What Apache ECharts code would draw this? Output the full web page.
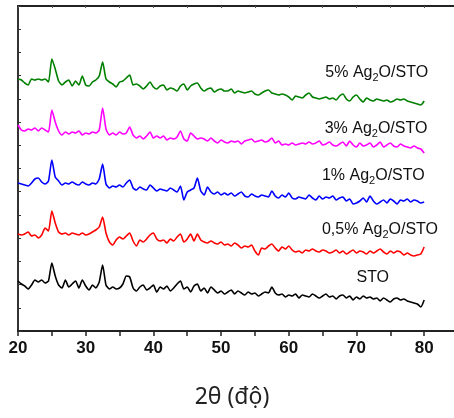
<!DOCTYPE html>
<html>
<head>
<meta charset="utf-8">
<script src="https://cdn.jsdelivr.net/npm/echarts@6/dist/echarts.min.js"></script>
<style>
  html, body { margin: 0; padding: 0; background: #fff; }
  #main { width: 454px; height: 418px; }
</style>
</head>
<body>
<div id="main"></div>
<script>
// 2θ sampled every 0.5 degree, 20 -> 80
var angles = [];
for (var i = 0; i <= 120; i++) {
    angles.push(20 + i * 0.5);
}

// intensities (a.u., patterns already stacked with an offset)
var sto = [50,47,45,42,46,51,49,51,48,50,68,55,46,43,51,44,47,50,43,51,45,41,46,43,49,66,46,42,44,42,43,47,55,54,43,40,44,46,41,43,46,39,44,42,45,40,43,47,50,42,44,39,45,47,40,43,38,44,41,38,40,37,39,41,37,40,38,36,39,37,38,35,37,39,38,44,38,36,37,34,36,35,37,33,36,35,34,37,35,33,35,37,34,35,32,35,36,33,35,31,34,32,35,33,34,32,33,30,33,31,29,32,33,31,32,30,29,28,27,24,31];
var ag05 = [97,96,97,99,95,96,93,96,103,100,120,108,99,97,98,96,98,97,96,98,96,97,99,101,104,114,98,89,86,91,94,92,95,98,90,85,91,89,92,96,98,92,90,91,88,92,90,94,97,89,92,97,90,97,91,89,88,90,88,87,89,86,87,85,88,86,83,85,84,86,80,76,83,82,85,87,83,80,84,82,85,81,79,80,78,81,80,82,80,79,81,80,78,79,81,78,80,77,79,81,78,80,79,77,80,78,80,82,79,77,80,78,80,79,76,78,76,75,76,77,84];
var ag1 = [148,147,146,145,148,152,153,149,147,150,171,154,150,146,148,147,149,147,146,149,147,146,148,147,152,167,147,143,145,144,146,144,148,151,143,141,144,142,141,146,143,140,142,141,140,143,141,139,145,131,139,141,143,153,140,136,144,139,137,139,136,138,136,138,135,137,139,135,134,137,135,134,136,135,134,140,135,133,136,134,138,133,132,134,133,132,136,133,131,135,132,134,133,135,131,133,134,130,132,127,128,130,133,129,135,130,127,129,131,128,132,130,127,131,130,132,129,131,130,128,129];
var ag3 = [206,201,200,202,201,203,200,203,201,199,221,209,200,196,199,197,199,198,200,196,198,197,199,198,201,223,202,196,198,196,199,197,198,204,196,193,195,192,195,199,193,195,193,195,191,193,192,194,200,192,190,198,195,192,193,192,190,193,190,188,191,189,188,190,189,190,187,190,191,192,189,190,191,189,190,193,188,190,186,187,186,188,186,187,188,187,189,187,188,190,186,187,189,186,185,187,189,185,190,186,184,188,185,186,188,184,186,189,184,186,188,185,184,187,185,184,183,185,183,182,178];
var ag5 = [252,251,248,246,252,251,252,251,252,249,272,262,250,246,249,251,245,250,246,255,246,245,249,251,255,269,252,249,247,244,249,250,253,256,246,247,245,242,245,249,244,242,245,246,241,243,242,240,245,247,241,245,247,248,243,240,242,243,239,241,242,240,240,242,238,240,239,238,239,240,237,236,238,240,241,238,237,236,237,236,234,231,235,234,233,236,238,234,233,232,233,234,232,233,231,235,237,232,230,234,236,232,229,233,231,230,232,231,230,231,229,230,232,231,232,230,229,228,227,226,230];

var seriesNames = ['STO', '0,5% Ag2O/STO', '1% Ag2O/STO', '3% Ag2O/STO', '5% Ag2O/STO'];
var seriesData = [sto, ag05, ag1, ag3, ag5];
var colors = ['#000000', '#ff0000', '#0000ff', '#ff00ff', '#008000'];

// label anchors in data coordinates [2θ, intensity]
var labelText = [
    '{n|STO}',
    '{n|0,5% Ag}{s|2}{n|O/STO}',
    '{n|1% Ag}{s|2}{n|O/STO}',
    '{n|3% Ag}{s|2}{n|O/STO}',
    '{n|5% Ag}{s|2}{n|O/STO}'
];
var labelX = [70.0, 64.9, 64.9, 65.3, 65.4];
var labelY = [53, 101, 155, 202, 258];

var myChart = echarts.init(document.getElementById('main'));

var series = [];
for (var k = 0; k < seriesData.length; k++) {
    var pts = [];
    for (var j = 0; j < angles.length; j++) {
        pts.push([angles[j], seriesData[k][j]]);
    }
    series.push({
        name: seriesNames[k],
        type: 'line',
        data: pts,
        showSymbol: false,
        silent: true,
        smooth: 0.2,
        lineStyle: { color: colors[k], width: 1.6 }
    });
}

var option = {
    animation: false,
    grid: { left: 18, top: 6, width: 440, height: 325, containLabel: false, outerBoundsMode: 'none' },
    xAxis: [{
        type: 'value',
        min: 20,
        max: 85,
        interval: 5,
        position: 'bottom',
        axisLine: { show: true, onZero: false, lineStyle: { color: '#222', width: 2 } },
        axisTick: { show: true, inside: false, length: 5, lineStyle: { color: '#222', width: 1.5 } },
        splitLine: { show: false },
        axisLabel: {
            margin: 9,
            color: '#111',
            fontSize: 17,
            fontWeight: 'bold',
            fontFamily: 'Liberation Sans',
            formatter: function (v) { return (v % 10 === 0 && v <= 80) ? String(v) : ''; }
        },
        name: '2θ (độ)',
        nameLocation: 'middle',
        nameGap: 55,
        nameTextStyle: { fontSize: 23, color: '#222', fontFamily: 'Noto Sans', padding: [0, 12, 0, 0] }
    }, {
        type: 'value',
        min: 20,
        max: 85,
        interval: 5,
        position: 'top',
        axisLine: { show: true, onZero: false, lineStyle: { color: '#222', width: 2 } },
        axisTick: { show: true, inside: true, length: 2, lineStyle: { color: '#555' } },
        axisLabel: { show: false },
        splitLine: { show: false }
    }],
    yAxis: {
        type: 'value',
        min: 0,
        max: 325,
        interval: 325 / 14,
        axisLine: { show: true, onZero: false, lineStyle: { color: '#333', width: 2 } },
        axisTick: { show: true, inside: true, length: 3, lineStyle: { color: '#333' } },
        axisLabel: { show: false },
        splitLine: { show: false }
    },
    series: series
};
myChart.setOption(option);

var texts = [];
for (var m = 0; m < labelText.length; m++) {
    var p = myChart.convertToPixel({ gridIndex: 0 }, [labelX[m], labelY[m]]);
    texts.push({
        type: 'text',
        x: p[0],
        y: p[1],
        style: {
            text: labelText[m],
            verticalAlign: 'middle',
            fill: '#111',
            rich: {
                n: { fontSize: 16, fontFamily: 'Liberation Sans', fill: '#111', lineHeight: 20 },
                s: { fontSize: 11, fontFamily: 'Liberation Sans', fill: '#111', lineHeight: 12, padding: [9, 0, 0, 0] }
            }
        }
    });
}
myChart.setOption({ graphic: texts });
</script>
</body>
</html>
